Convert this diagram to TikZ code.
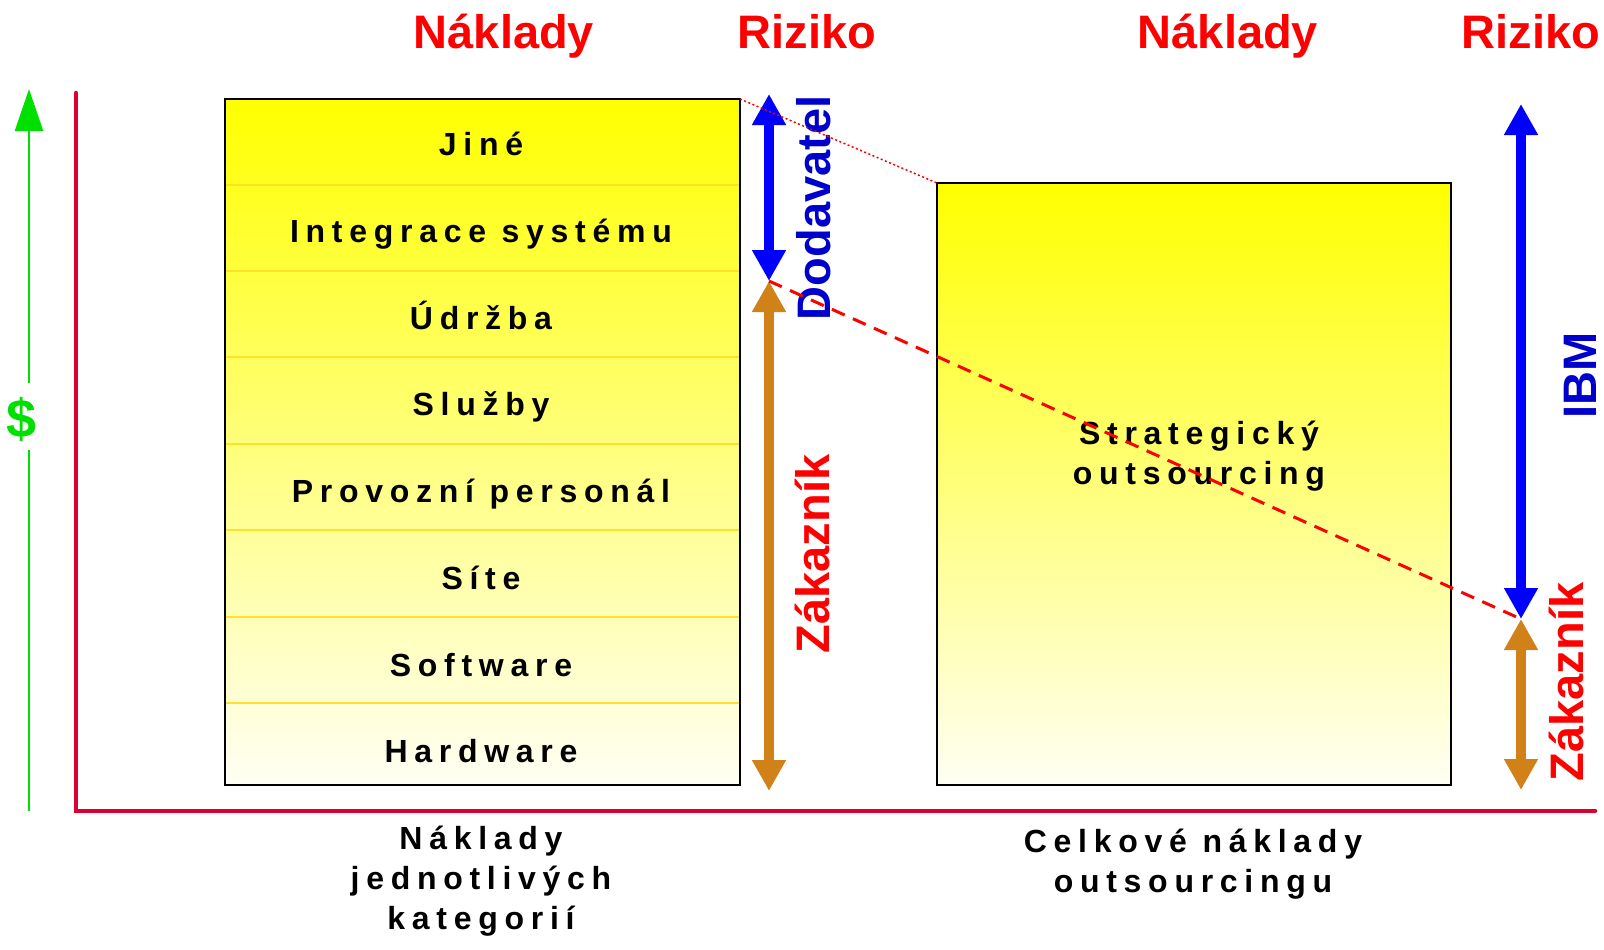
\documentclass[tikz,border=0pt]{standalone}
\usepackage{fontspec}
\setmainfont{Liberation Sans}
\newfontfamily\spacedfont{Liberation Sans}[LetterSpace=21]
\usetikzlibrary{arrows.meta,calc}

\definecolor{axisred}{RGB}{220,0,50}
\definecolor{labelred}{RGB}{255,0,0}
\definecolor{arrowblue}{RGB}{0,0,255}
\definecolor{textblue}{RGB}{0,0,204}
\definecolor{riskorange}{RGB}{208,130,24}
\definecolor{moneygreen}{RGB}{0,224,0}
\definecolor{rowline}{RGB}{255,225,40}
\definecolor{paleyellow}{RGB}{255,255,244}

\tikzset{
  bigtip/.tip={Triangle[width=32pt,length=31pt]},
  axis/.style={axisred, line width=4.5pt, line cap=round},
  moneyline/.style={moneygreen, line width=2.5pt},
  costbox/.style={draw=black, line width=2.2pt, outer sep=0pt, inner sep=0pt,
                  top color=yellow, bottom color=paleyellow, anchor=north west},
  rowsep/.style={rowline, line width=1.3pt, shorten <=1.1pt, shorten >=1.1pt},
  rowtext/.style={font=\spacedfont\fontsize{32}{40}\bfseries, text=black,
                  inner sep=0pt, anchor=base},
  bigred/.style={font=\fontsize{47}{56}\bfseries, text=labelred,
                 inner sep=0pt, anchor=base},
  vlabel/.style={font=\fontsize{47}{56}\bfseries, inner sep=0pt,
                 rotate=90, anchor=base},
  bluearrow/.style={arrowblue, line width=10pt, bigtip-bigtip},
  orangearrow/.style={riskorange, line width=10pt, bigtip-bigtip},
  dottedred/.style={labelred, line width=1.5pt, dash pattern=on 2pt off 2.5pt},
  dashedred/.style={labelred, line width=3pt, dash pattern=on 14pt off 9pt},
}

\begin{document}
\begin{tikzpicture}[x=1pt,y=-1pt]
\useasboundingbox (0,0) rectangle (1604,950);

% axes
\coordinate (ytop) at (76,93);
\coordinate (origin) at (76,811);
\coordinate (xend) at (1595,811);
\draw[axis] (ytop) -- (origin) -- (xend);

% money scale with the dollar sign in a gap
\node[font=\fontsize{54}{60}\bfseries, text=moneygreen, inner sep=0pt, anchor=base]
  (dollar) at (22,437) {\$};
\coordinate (gbot) at (29,811);
\coordinate (gapbot) at (29,450);
\coordinate (gaptop) at (29,383);
\coordinate (gtop) at (29,89);
\draw[moneyline] (gbot) -- (gapbot);
\draw[moneyline, -{Triangle[width=28pt,length=42pt]}] (gaptop) -- (gtop);

% column headings
\node[bigred] (cost1) at (504,49) {Náklady};
\node[bigred] (risk1) at (807,49) {Riziko};
\node[bigred] (cost2) at (1228,49) {Náklady};
\node[bigred] (risk2) at (1531,49) {Riziko};

% cost categories
\node[costbox, minimum width=515pt, minimum height=686pt] (lbox) at (225,99) {};
\foreach \y in {185,271,357,444,530,617,703}
  \draw[rowsep] (lbox.west |- 0,\y) -- (lbox.east |- 0,\y);
\foreach \t/\y [count=\i] in {Jiné/155, Integrace systému/242, Údržba/329,
                              Služby/415, Provozní personál/502, Síte/589,
                              Software/676, Hardware/762}
  \node[rowtext] (row\i) at (481,\y) {\t};

% outsourcing total
\node[costbox, minimum width=514pt, minimum height=602pt] (rbox) at (937,183) {};
\node[rowtext, align=center] (strat) at (1199,484) {Strategický\\outsourcing};

% captions under the axis (base anchor sits on the last line)
\node[rowtext, align=center] (lcap) at (481,929) {Náklady\\jednotlivých\\kategorií};
\node[rowtext, align=center] (rcap) at (1193,892) {Celkové náklady\\outsourcingu};

% risk split, categories
\coordinate (ltop) at (769,94);
\coordinate (lsplit) at (769,281);
\coordinate (lbot) at (769,791);
\draw[bluearrow] (ltop) -- (lsplit);
\draw[orangearrow] (lsplit) -- (lbot);
\node[vlabel, text=textblue] (supplier) at (830,208) {Dodavatel};
\node[vlabel, text=labelred] (customer1) at (829,554) {Zákazník};

% risk split, outsourcing
\coordinate (rtop) at (1521,104);
\coordinate (rsplit) at (1521,619);
\coordinate (rbot) at (1521,790);
\draw[bluearrow] (rtop) -- (rsplit);
\draw[orangearrow] (rsplit) -- (rbot);
\node[vlabel, text=textblue] (ibm) at (1596,375) {IBM};
\node[vlabel, text=labelred] (customer2) at (1583,682) {Zákazník};

% guide lines
\draw[dottedred] (lbox.north east) -- (rbox.north west);
\draw[dashedred] (lsplit) -- (rsplit);
\end{tikzpicture}
\end{document}
